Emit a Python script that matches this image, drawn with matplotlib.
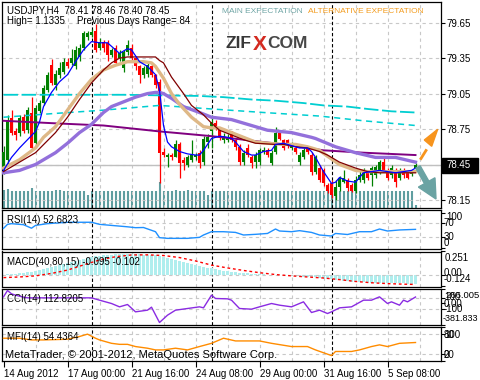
import matplotlib
matplotlib.use('Agg')
import matplotlib.pyplot as plt
from matplotlib.patches import Polygon, FancyArrow, Rectangle
from matplotlib.lines import Line2D
from matplotlib.transforms import IdentityTransform

plt.rcParams['font.family'] = ['Liberation Sans', 'DejaVu Sans']

# ---------------- data ----------------
date_labels = ['14 Aug 2012', '17 Aug 00:00', '21 Aug 16:00', '24 Aug 08:00',
               '29 Aug 00:00', '31 Aug 16:00', '5 Sep 08:00']
date_bars = [0, 16, 32, 48, 64, 80, 96]
week_bars = [22, 52, 82]
price_ticks = [79.65, 79.35, 79.05, 78.75, 78.45, 78.15]
last_price = 78.45

opens = [78.43,78.49,78.84,78.73,78.72,78.85,78.74,78.89,78.63,78.90,
         78.97,79.08,79.29,79.12,79.21,79.23,79.32,79.31,79.28,79.36,
         79.44,79.53,79.55,79.58,79.44,79.49,79.48,79.38,79.44,79.35,
         79.27,79.40,79.44,79.35,79.28,79.21,79.22,79.28,79.21,79.15,
         78.56,78.51,78.53,78.51,78.62,78.49,78.45,78.49,78.51,78.55,
         78.47,78.64,78.73,78.80,78.74,78.66,78.66,78.71,78.66,78.60,
         78.47,78.59,78.51,78.47,78.47,78.56,78.57,78.46,78.56,78.72,
         78.66,78.66,78.59,78.59,78.47,78.51,78.59,78.53,78.39,78.42,
         78.40,78.28,78.29,78.18,78.26,78.30,78.32,78.28,78.23,78.32,
         78.32,78.38,78.36,78.36,78.39,78.47,78.39,78.36,78.40,78.34,
         78.39,78.39,78.37,78.41]
highs = [78.61,78.87,78.91,78.76,78.87,78.88,78.94,79.02,78.95,79.00,
         79.12,79.23,79.34,79.25,79.32,79.35,79.35,79.43,79.45,79.47,
         79.58,79.58,79.60,79.64,79.52,79.50,79.50,79.44,79.46,79.42,
         79.42,79.50,79.47,79.37,79.29,79.28,79.31,79.30,79.22,79.17,
         78.59,78.55,78.55,78.66,78.64,78.51,78.53,78.66,78.55,78.57,
         78.69,78.71,78.87,78.83,78.76,78.72,78.71,78.73,78.67,78.62,
         78.57,78.62,78.53,78.56,78.59,78.60,78.59,78.57,78.77,78.74,
         78.67,78.67,78.64,78.62,78.56,78.59,78.61,78.56,78.53,78.45,
         78.42,78.29,78.32,78.32,78.35,78.40,78.34,78.29,78.35,78.40,
         78.42,78.40,78.44,78.45,78.49,78.51,78.42,78.45,78.42,78.42,
         78.42,78.40,78.40,78.46]
lows = [78.37,78.45,78.70,78.66,78.69,78.72,78.72,78.57,78.61,78.89,
        78.95,79.06,79.12,79.08,79.18,79.22,79.27,79.29,79.26,79.33,
        79.42,79.50,79.53,79.40,79.42,79.40,79.33,79.36,79.29,79.33,
        79.23,79.38,79.33,79.25,79.14,79.18,79.19,79.19,79.10,78.29,
        78.51,78.43,78.49,78.51,78.34,78.40,78.43,78.47,78.49,78.42,
        78.45,78.59,78.59,78.74,78.66,78.63,78.64,78.64,78.57,78.45,
        78.45,78.51,78.42,78.42,78.45,78.54,78.51,78.45,78.54,78.66,
        78.57,78.59,78.57,78.54,78.45,78.50,78.54,78.36,78.37,78.30,
        78.27,78.21,78.17,78.15,78.23,78.29,78.23,78.22,78.21,78.30,
        78.29,78.32,78.27,78.34,78.37,78.39,78.32,78.34,78.26,78.32,
        78.34,78.33,78.35,78.40]
closes = [78.56,78.83,78.72,78.70,78.84,78.73,78.91,78.59,78.93,78.97,
          79.10,79.21,79.14,79.22,79.27,79.32,79.28,79.35,79.42,79.44,
          79.56,79.56,79.57,79.42,79.49,79.44,79.38,79.42,79.31,79.39,
          79.40,79.46,79.35,79.28,79.21,79.27,79.29,79.21,79.12,78.55,
          78.53,78.53,78.51,78.62,78.46,78.46,78.51,78.53,78.53,78.46,
          78.67,78.68,78.81,78.76,78.68,78.69,78.68,78.66,78.60,78.47,
          78.55,78.53,78.46,78.53,78.57,78.57,78.53,78.55,78.72,78.67,
          78.59,78.62,78.62,78.56,78.53,78.57,78.56,78.39,78.51,78.32,
          78.29,78.23,78.19,78.26,78.34,78.34,78.25,78.23,78.32,78.36,
          78.39,78.34,78.42,78.43,78.47,78.40,78.34,78.42,78.30,78.39,
          78.36,78.34,78.39,78.45]
volumes = [1770,1900,1730,1730,1730,1730,1670,2030,1730,1730,
           1730,1730,1670,1770,1830,1730,1730,1730,1730,1670,
           1730,1330,1730,1730,1670,1730,1730,1730,1730,1730,
           1670,1730,1670,1730,1730,1730,1730,1670,1730,2600,
           1730,1730,1730,1830,1730,1730,1830,1730,1730,1730,
           1730,1330,1730,1730,1730,1730,1730,1730,1730,1730,
           1730,1730,1730,1730,1730,1730,1730,1730,1730,1730,
           1730,1730,1730,1730,1730,1730,1730,1730,1730,1730,
           1730,1730,1730,1730,1730,1730,1730,1730,1730,1730,
           1730,1730,1730,1730,1730,1730,1730,1730,1730,1730,
           1730,1730,1730,330]

blue_bars = [0,2,4,6,8,9,10,12,14,16,18,20,22,24,26,28,29,31,32,34,36,38,39,40,41,42,44,46,48,49,
             50,51,52,54,56,57,58,60,62,63,65,67,68,70,72,74,76,77,78,79,80,82,83,84,86,88,89,90,92,94,
             96,98,100,102,103]
blue_vals = [78.40,78.51,78.59,78.66,78.73,78.81,78.94,79.06,79.15,79.21,79.32,79.42,79.49,79.48,79.48,
             79.42,79.39,79.43,79.42,79.32,79.28,79.21,79.08,78.78,78.64,78.60,78.56,78.54,78.53,78.53,
             78.57,78.62,78.67,78.69,78.68,78.67,78.64,78.56,78.53,78.53,78.56,78.57,78.62,78.63,78.61,
             78.59,78.59,78.56,78.51,78.45,78.39,78.29,78.30,78.34,78.31,78.30,78.34,78.38,78.39,78.40,
             78.39,78.38,78.39,78.40,78.42]
maroon_bars = [0,8,13,16,19,22,25,27,29,31,38,39,40,42,45,47,50,52,54,57,60,63,68,70,73,76,79,81,84,88,91,94,103]
maroon_vals = [78.39,78.55,78.72,78.85,79.00,79.14,79.25,79.31,79.35,79.36,79.36,79.33,79.31,79.19,79.05,
               78.95,78.87,78.80,78.74,78.70,78.66,78.63,78.62,78.62,78.60,78.59,78.56,78.53,78.47,78.42,
               78.39,78.38,78.38]
tan_bars = [0,4,8,10,13,16,19,22,25,28,31,35,37,38,39,40,42,44,47,50,52,54,57,60,63,66,70,73,76,79,81,84,88,91,103]
tan_vals = [78.42,78.49,78.59,78.68,78.77,78.91,79.05,79.17,79.25,79.29,79.32,79.32,79.31,79.28,79.23,
            79.18,79.05,78.96,78.85,78.77,78.76,78.76,78.72,78.68,78.64,78.63,78.62,78.62,78.60,78.57,
            78.52,78.45,78.40,78.39,78.39]
purple_bars = [0,4,8,13,16,19,22,25,27,30,33,36,38,39,40,42,45,49,52,57,62,66,72,77,78,83,88,93,98,103]
purple_vals = [78.38,78.40,78.45,78.55,78.63,78.72,78.79,78.89,78.94,78.98,79.02,79.05,79.06,79.06,79.05,
               79.01,78.94,78.89,78.85,78.83,78.78,78.74,78.72,78.68,78.67,78.60,78.55,78.51,78.51,78.47]
magenta_bars = [0,12,25,39,52,60,70,80,90,103]
magenta_vals = [78.82,78.80,78.78,78.73,78.69,78.66,78.62,78.57,78.55,78.53]
cyan1_bars = [0,30,49,55,62,68,75,80,86,91,97,103]
cyan1_vals = [79.04,79.04,79.03,79.02,79.00,78.99,78.97,78.95,78.94,78.92,78.90,78.89]
cyan2_bars = [0,12,25,39,52,65,79,90,103]
cyan2_vals = [78.85,78.88,78.91,78.95,78.92,78.89,78.86,78.82,78.78]

rsi_bars = [0,1,2,3,5,7,8,11,16,22,24,28,31,33,35,36,38,39,41,46,49,50,52,55,58,60,63,66,68,69,
            72,74,77,79,82,83,86,89,92,94,96,99,103]
rsi_vals = [55.6,67,69,68,66,56,64,69,72.9,73,67,63,60,57.5,58,54,46,29,27,27,29.9,36.6,46,46,44,
            36.6,38.5,41,53.7,48,46,49,44,36.6,33.7,41,38,46,46,53.7,48,51,52.7]

macd_hist = [0.002,0.005,0.008,0.012,0.017,0.022,0.028,0.033,
             0.040,0.050,0.060,0.070,0.080,0.092,0.104,0.116,
             0.128,0.140,0.152,0.163,0.174,0.183,0.192,0.199,
             0.205,0.210,0.214,0.217,0.220,0.221,0.222,0.222,
             0.222,0.221,0.219,0.217,0.215,0.213,0.210,0.204,
             0.190,0.178,0.167,0.156,0.145,0.134,0.124,0.114,
             0.104,0.095,0.086,0.077,0.069,0.061,0.054,0.047,
             0.041,0.035,0.030,0.025,0.021,0.017,0.014,0.011,
             0.008,0.006,0.004,0.002,0.000,-0.002,-0.004,-0.006,
             -0.008,-0.011,-0.014,-0.017,-0.020,-0.023,-0.026,-0.030,
             -0.035,-0.041,-0.047,-0.053,-0.058,-0.063,-0.067,-0.071,
             -0.075,-0.078,-0.080,-0.082,-0.083,-0.084,-0.085,-0.086,
             -0.087,-0.088,-0.089,-0.090,-0.091,-0.092,-0.094,-0.095]
signal_bars = [0,4,8,12,16,20,24,28,32,36,40,44,48,52,56,60,64,68,72,76,80,84,88,92,96,100,103]
signal_vals = [-0.029,-0.022,-0.010,0.016,0.052,0.107,0.160,0.195,0.214,0.215,0.208,0.186,0.150,0.105,
               0.075,0.048,0.024,0.004,-0.010,-0.022,-0.033,-0.050,-0.070,-0.084,-0.093,-0.099,-0.102]

cci_bars = [0,1,2,3,5,6,16,22,24,27,29,31,33,36,37,39,41,43,46,49,50,52,53,56,57,59,62,64,67,69,
            72,74,75,77,79,81,82,84,87,90,92,94,96,97,99,100,101,103]
cci_vals = [116,230,170,146,110,98,98,98,56,-4,-64,-22,-154,-124,-70,-346,-214,-124,-94,-64,
            -82,146,86,80,56,-94,-106,-64,-4,-34,-64,-4,26,-166,-124,-184,-154,-82,-64,56,
            56,116,-4,26,-34,56,26,113]

mfi_bars = [0,4,7,10,16,19,21,23,24,27,29,31,33,36,38,40,43,46,49,52,55,58,64,67,72,76,78,82,83,87,
            89,92,94,96,99,103]
mfi_vals = [67,67,62,62,64,72,79,67,62,52,49,49,42.5,37.6,32.6,32.6,37.6,32.6,42.5,52,
            67,59,59,52,42.5,42.5,32.6,16,28,28,32.6,42.5,47.5,42.5,52,54.4]

# ---------------- layout ----------------
W, H = 480, 380
fig = plt.figure(figsize=(W / 100, H / 100), dpi=100)
fig.patch.set_facecolor('white')
XMIN, XMAX = -0.375, 109.375
GRID = '#c8c8c8'


def panel(top, bottom):
    ax = fig.add_axes([2 / W, 1 - bottom / H, 439 / W, (bottom - top) / H])
    ax.set_xlim(XMIN, XMAX)
    ax.set_xticks([])
    for s in ax.spines.values():
        s.set_color('black')
        s.set_linewidth(0.9)
    for b in range(8, 110, 8):
        ax.axvline(b, color=GRID, lw=0.8, ls=(0, (3, 3)), zorder=0.5)
    for b in week_bars:
        ax.axvline(b, color='black', lw=0.8, ls=(0, (3, 2)), zorder=1.5)
    return ax


def right_ticks(ax, ticks, labels=None):
    ax.yaxis.tick_right()
    ax.set_yticks(ticks)
    ax.set_yticklabels(labels if labels is not None else [''] * len(ticks))
    ax.tick_params(axis='y', length=3, width=0.8, pad=1, labelsize=7, colors='black')


def ptext(x, y, s, **kw):
    fig.text(x / W, 1 - y / H, s, va='center', ha='left', **kw)


idx = list(range(len(closes)))

# ---- main price panel ----
ax = panel(2, 208)
ax.set_ylim(78.082, 79.825)
axv = ax.twinx()
axv.set_ylim(0, 20600)
axv.axis('off')
axv.vlines(idx, 0, volumes, color='#5f9ea0', lw=1.5)
axv.set_zorder(ax.get_zorder() - 1)
ax.patch.set_visible(False)
right_ticks(ax, price_ticks, [f'{p:.2f}' if p != last_price else '' for p in price_ticks])
for p in price_ticks:
    ax.axhline(p, color=GRID, lw=0.8, ls=(0, (3, 3)), zorder=0.5)
ax.axhline(last_price, color='#c0c0c0', lw=1.0, zorder=0.6)

cols = ['#008000' if c >= o else '#ff0000' for o, c in zip(opens, closes)]
ax.vlines(idx, lows, highs, colors=cols, lw=0.9, zorder=2.5)
ax.bar(idx, [c - o if abs(c - o) > 0.004 else 0.008 for o, c in zip(opens, closes)],
       bottom=opens, width=0.72, color=cols, zorder=3, linewidth=0)

ax.plot(cyan1_bars, cyan1_vals, color='#00ced1', lw=1.3, ls=(0, (8, 2)), zorder=3.5)
ax.plot(cyan2_bars, cyan2_vals, color='#00ced1', lw=1.1, ls=(0, (4, 3)), zorder=3.5)
ax.plot(magenta_bars, magenta_vals, color='#800080', lw=1.4, zorder=3.6)
ax.plot(purple_bars, purple_vals, color='#9370db', lw=2.4, zorder=3.7)
ax.plot(tan_bars, tan_vals, color='#deb887', lw=2.4, zorder=3.8)
ax.plot(maroon_bars, maroon_vals, color='#800000', lw=0.9, zorder=3.9)
ax.plot(blue_bars, blue_vals, color='#0000ff', lw=0.9, zorder=4)

# last price box
fig.add_artist(Rectangle((442 / W, 1 - 172.5 / H), 36 / W, 14.5 / H,
                         transform=fig.transFigure, fc='black', ec='black'))
ptext(446, 165.3, f'{last_price:.2f}', size=7, color='white')

# ---- RSI ----
ar = panel(210, 249)
ar.set_ylim(-3.4, 108)
for lv in (70, 30):
    ar.axhline(lv, color=GRID, lw=0.8, ls=(0, (3, 3)), zorder=0.5)
ar.plot(rsi_bars, rsi_vals, color='#1e90ff', lw=1.0, zorder=3)
right_ticks(ar, [100, 70, 30, 0])

# ---- MACD ----
am = panel(251.5, 286.5)
am.set_ylim(-0.124, 0.251)
am.bar(idx, macd_hist, width=0.75, color='#afeeee', linewidth=0, zorder=2)
am.axhline(0, color=GRID, lw=0.8, ls=(0, (3, 3)), zorder=2.5)
am.plot(signal_bars, signal_vals, color='#ff0000', lw=1.0, ls=(0, (2, 2)), zorder=3)
right_ticks(am, [0.251, 0.0, -0.124])

# ---- CCI ----
ac = panel(288.5, 324.5)
ac.set_ylim(-381.833, 266.005)
for lv in (100, -100):
    ac.axhline(lv, color=GRID, lw=0.8, ls=(0, (3, 3)), zorder=0.5)
ac.plot(cci_bars, cci_vals, color='#8a2be2', lw=1.0, zorder=3)
right_ticks(ac, [266.005, 100, 0, -100, -381.833])

# ---- MFI ----
af = panel(327, 361)
af.set_ylim(0, 100)
for lv in (80, 20):
    af.axhline(lv, color=GRID, lw=0.8, ls=(0, (3, 3)), zorder=0.5)
af.plot(mfi_bars, mfi_vals, color='#ff8c00', lw=1.0, zorder=3)
right_ticks(af, [100, 80, 20, 0])
af.set_xticks(date_bars)
af.set_xticklabels(date_labels, ha='left')
af.tick_params(axis='x', length=4, width=0.8, pad=1.5, labelsize=7, colors='black')

# ---- texts ----
ptext(7, 10.5, 'USDJPY,H4  78.41 78.46 78.40 78.45', size=7)
ptext(7, 21, 'High= 1.1335', size=7)
ptext(77, 21, 'Previous Days Range= 84', size=7)
ptext(221.5, 11.5, 'MAIN EXPECTATION', size=6, color='#6fa5a5')
ptext(308, 11.5, 'ALTERNATIVE EXPECTATION', size=6, color='#f39c1f')
fig.text(225 / W, 1 - 48 / H, 'ZIF', size=12.5, weight='bold', color='#383838', va='baseline')
fig.text(253 / W, 1 - 49.5 / H, 'X', size=15, weight='bold', color='#d42a20', va='baseline')
fig.text(267 / W, 1 - 48 / H, 'COM', size=12.5, weight='bold', color='#474747', va='baseline')

ptext(7, 220, 'RSI(14) 52.6823', size=7)
ptext(7, 262, 'MACD(40,80,15) -0.095 -0.102', size=7)
ptext(7, 299, 'CCI(14) 112.8205', size=7)
ptext(7, 337, 'MFI(14) 54.4364', size=7)
ptext(5, 355.5, 'MetaTrader, \u00a9 2001-2012, MetaQuotes Software Corp.', size=8)

for s, x, y, fs in [('100', 446, 217.5, 7), ('70', 443.5, 223.3, 7), ('30', 443.5, 236.7, 7),
                    ('0', 443.5, 242.5, 7),
                    ('0.251', 445, 258.3, 7), ('0.00', 443.5, 273, 7), ('-0.124', 443.5, 279.5, 7),
                    ('266.005', 445, 295.7, 6.8), ('100', 444, 296.5, 7), ('0.00', 443.5, 303.8, 7),
                    ('-100', 443.5, 308.7, 7), ('-381.833', 443, 318.3, 6.5),
                    ('100', 444, 334.7, 7), ('80', 444, 334.7, 7), ('20', 444, 355, 7), ('0', 444, 355, 7)]:
    ptext(x, y, s, size=fs)

# ---- expectation arrows ----
fig.add_artist(Line2D([421 / W, 426 / W], [1 - 158.5 / H, 1 - 150.5 / H],
                      transform=fig.transFigure, color='#f7941d', lw=2.0))
fig.add_artist(Polygon([(437.7 / W, 1 - 129.3 / H), (424.3 / W, 1 - 140 / H), (431.7 / W, 1 - 146.3 / H)],
                       closed=True, transform=fig.transFigure, fc='#f7941d', ec='#f7941d'))
fig.add_artist(FancyArrow(418, H - 167, 18, -32, width=5, head_width=19, head_length=19,
                          length_includes_head=True, transform=IdentityTransform(),
                          fc='#6aa3a3', ec='#6aa3a3'))

fig.savefig('out.png', dpi=100)
